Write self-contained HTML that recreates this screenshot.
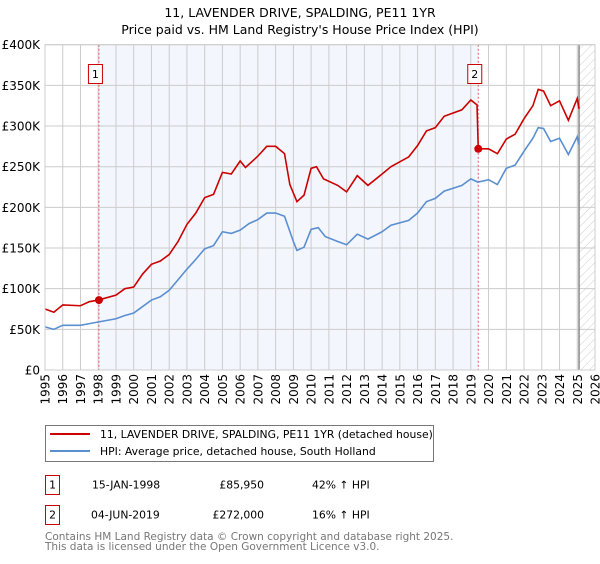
<!DOCTYPE html>
<html><head><meta charset="utf-8"><style>
body{margin:0;background:#fff;font-family:"DejaVu Sans","Liberation Sans",sans-serif;}
svg text{font-family:"DejaVu Sans","Liberation Sans",sans-serif;}
</style></head><body>
<svg id="chart" width="600" height="560" xmlns="http://www.w3.org/2000/svg">
<defs><pattern id="hatch" width="6" height="6" patternUnits="userSpaceOnUse" patternTransform="rotate(45)"><line x1="0" y1="0" x2="0" y2="6" stroke="#ccc" stroke-width="1"/></pattern></defs>
<text x="300" y="17" text-anchor="middle" font-size="12.5" fill="#000">11, LAVENDER DRIVE, SPALDING, PE11 1YR</text>
<text x="300" y="34" text-anchor="middle" font-size="12.5" fill="#000">Price paid vs. HM Land Registry's House Price Index (HPI)</text>
<g id="plot"></g>
<g>
<rect x="45.5" y="425.5" width="388" height="36" fill="#fff" stroke="#777"/>
<line x1="50" y1="434" x2="90" y2="434" stroke="#cc0000" stroke-width="2"/>
<text x="100" y="438" font-size="10.8">11, LAVENDER DRIVE, SPALDING, PE11 1YR (detached house)</text>
<line x1="50" y1="451" x2="90" y2="451" stroke="#5b8fd0" stroke-width="2"/>
<text x="100" y="455" font-size="10.8">HPI: Average price, detached house, South Holland</text>
</g>
<g font-size="10.8">
<rect x="45.5" y="475.5" width="14" height="19" fill="#fff" stroke="#cc0000"/>
<text x="52.5" y="488.5" text-anchor="middle">1</text>
<text x="92" y="488.5">15-JAN-1998</text>
<text x="264" y="488.5" text-anchor="end">£85,950</text>
<text x="312" y="488.5">42% ↑ HPI</text>
<rect x="45.5" y="505.5" width="14" height="19" fill="#fff" stroke="#cc0000"/>
<text x="52.5" y="518.5" text-anchor="middle">2</text>
<text x="91" y="518.5">04-JUN-2019</text>
<text x="264" y="518.5" text-anchor="end">£272,000</text>
<text x="312" y="518.5">16% ↑ HPI</text>
</g>
<text x="45" y="540" font-size="10.5" fill="#777">Contains HM Land Registry data © Crown copyright and database right 2025.</text>
<text x="45" y="550" font-size="10.5" fill="#777">This data is licensed under the Open Government Licence v3.0.</text>
</svg>
<script>
const yTicks=[0,50,100,150,200,250,300,350,400];
const yTickLabels=["£0","£50K","£100K","£150K","£200K","£250K","£300K","£350K","£400K"];
const xYears=[1995,1996,1997,1998,1999,2000,2001,2002,2003,2004,2005,2006,2007,2008,2009,2010,2011,2012,2013,2014,2015,2016,2017,2018,2019,2020,2021,2022,2023,2024,2025,2026];
const hpiT=[1995,1995.5,1996,1997,1997.5,1998,1999,1999.5,2000,2000.5,2001,2001.5,2002,2002.5,2003,2003.5,2004,2004.5,2005,2005.5,2006,2006.5,2007,2007.5,2008,2008.5,2009,2009.2,2009.6,2010,2010.4,2010.8,2011.5,2012,2012.6,2013.2,2014,2014.5,2015.5,2016,2016.5,2017,2017.5,2018.5,2019,2019.4,2020,2020.5,2021,2021.5,2022,2022.5,2022.8,2023.1,2023.5,2024,2024.5,2025,2025.1];
const hpiV=[53,50,55,55,57,59,63,67,70,78,86,90,98,111,124,136,149,153,170,168,172,180,185,193,193,189,158,147,151,173,175,164,158,154,167,161,170,178,184,193,207,211,220,227,235,231,234,228,248,252,269,285,298,297,281,285,265,287,277];
const priceT=[1995,1995.5,1996,1997,1997.5,1998,1999,1999.5,2000,2000.5,2001,2001.5,2002,2002.5,2003,2003.5,2004,2004.5,2005,2005.5,2006,2006.3,2007,2007.5,2008,2008.5,2008.8,2009.2,2009.6,2010,2010.3,2010.7,2011.5,2012,2012.6,2013.2,2014,2014.5,2015.5,2016,2016.5,2017,2017.5,2018.5,2019,2019.35,2019.42,2020,2020.5,2021,2021.5,2022,2022.5,2022.8,2023.1,2023.5,2024,2024.5,2025,2025.1];
const priceV=[75,71,80,79,84,86,92,100,102,118,130,134,142,158,179,193,212,216,243,241,257,249,263,275,275,266,228,207,215,248,250,235,227,219,239,227,241,250,262,276,294,298,312,320,332,326,272,272,266,284,290,309,325,345,343,325,331,307,334,321];
const saleT=[1998.04,2019.42];
const saleV=[85.95,272];
const saleLabels=["1","2"];
const NS="http://www.w3.org/2000/svg";
const L=45,R=595,T=44.7,B=370;
const x=t=>L+(t-1995)/(2026-1995)*(R-L);
const y=v=>B-v/400*(B-T);
const g=document.getElementById('plot');
function mk(tag,attrs){const e=document.createElementNS(NS,tag);for(const k in attrs)e.setAttribute(k,attrs[k]);g.appendChild(e);return e;}
let e;
e=mk('rect',{x:x(saleT[0]),y:T,width:x(saleT[1])-x(saleT[0]),height:B-T,fill:'#f3f6fd'});


e=mk('rect',{x:x(2025.1),y:T,width:R-x(2025.1),height:B-T,fill:'url(#hatch)'});


yTicks.forEach((v,i)=>{
 e=mk('line',{x1:L,x2:R,y1:y(v),y2:y(v),stroke:'#ccc','stroke-width':1});
 
 
 e=mk('text',{x:L-5,y:y(v)+4.5,'text-anchor':'end','font-size':12});
 e.textContent=yTickLabels[i];
 
 
});
xYears.forEach(t=>{
 e=mk('line',{x1:x(t),x2:x(t),y1:T,y2:B,stroke:'#ccc','stroke-width':1});
 
 
 e=mk('text',{x:0,y:0,'text-anchor':'end','font-size':12,transform:`translate(${x(t)+4.5},${B+4}) rotate(-90)`});
 e.textContent=t;
 
 
});
e=mk('line',{x1:x(2025.1),x2:x(2025.1),y1:T,y2:B,stroke:'#888','stroke-width':1.5});


saleT.forEach((t,i)=>{
 e=mk('line',{x1:x(t),x2:x(t),y1:T,y2:B,stroke:'#e06060','stroke-width':1,'stroke-dasharray':'2,2'});
 
 
});
e=mk('polyline',{points:hpiT.map((t,i)=>x(t)+','+y(hpiV[i])).join(' '),fill:'none',stroke:'#5b8fd0','stroke-width':1.6});


e=mk('polyline',{points:priceT.map((t,i)=>x(t)+','+y(priceV[i])).join(' '),fill:'none',stroke:'#cc0000','stroke-width':1.6});


saleT.forEach((t,i)=>{
 e=mk('circle',{cx:x(t),cy:y(saleV[i]),r:4,fill:'#cc0000'});
 
 
 const bx=x(t)-11;
 e=mk('rect',{x:bx+0.5,y:64.5,width:14,height:19,fill:'#fff',stroke:'#cc0000'});
 
 
 e=mk('text',{x:bx+7.5,y:78,'text-anchor':'middle','font-size':11});
 e.textContent=saleLabels[i];
 
 
});
e=mk('rect',{x:L,y:T,width:R-L,height:B-T,fill:'none',stroke:'#ccc'});


</script>
</body></html>
